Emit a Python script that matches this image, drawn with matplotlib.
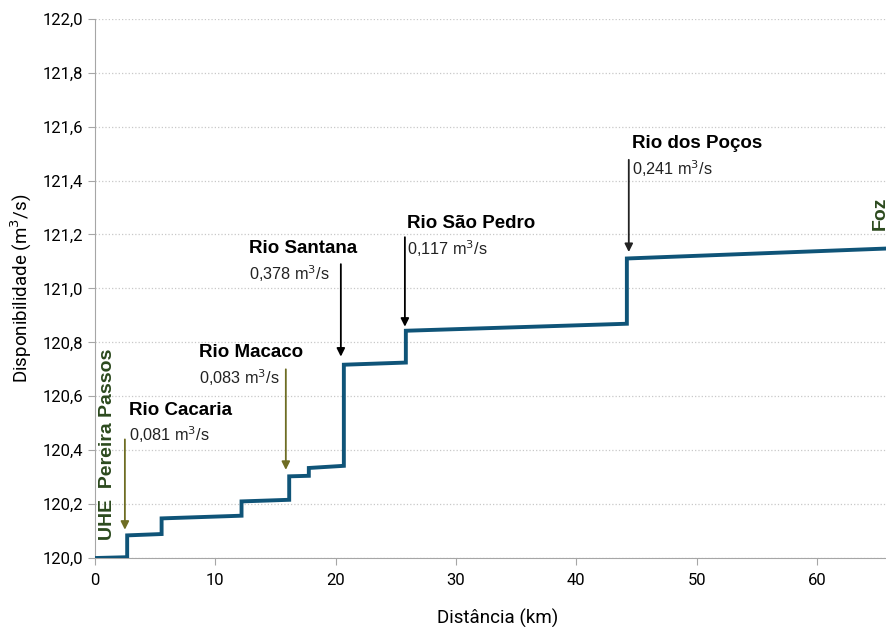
import matplotlib
matplotlib.use('Agg')
import matplotlib.pyplot as plt
from matplotlib.ticker import FuncFormatter, MultipleLocator

# perfil de disponibilidade ao longo do rio (degraus nos afluentes)
dist_km = [0, 2.68, 2.68, 5.54, 5.54, 12.18, 12.18, 16.14, 16.14, 17.77, 17.77,
           20.68, 20.68, 25.83, 25.83, 44.19, 44.19, 65.8]
disp = [120.0, 120.003, 120.084, 120.089, 120.147, 120.157, 120.210, 120.216,
        120.303, 120.305, 120.334, 120.342, 120.717, 120.725, 120.843, 120.869,
        121.111, 121.148]

# afluentes
afl_nome = ['Rio Cacaria', 'Rio Macaco', 'Rio Santana', 'Rio São Pedro', 'Rio dos Poços']
afl_vazao = ['0,081', '0,083', '0,378', '0,117', '0,241']
afl_km = [2.49, 15.86, 20.43, 25.75, 44.35]
afl_ponta = [120.105, 120.327, 120.747, 120.858, 121.135]

# layout das setas / textos
seta_topo = [120.44, 120.70, 121.09, 121.19, 121.477]
texto_x = [2.82, 8.64, 12.79, 25.91, 44.6]
texto_y = [120.549, 120.762, 121.147, 121.24, 121.537]
seta_cor = ['#6e6d24', '#6e6d24', 'black', 'black', '#222222']

plt.rcParams['font.family'] = ['Liberation Sans', 'DejaVu Sans']

fig = plt.figure(figsize=(8.87, 6.27), dpi=100)
ax = fig.add_axes([0.107, 0.110, 0.893, 0.860])

ax.plot(dist_km, disp, color='#0f5478', lw=2.8, solid_joinstyle='miter', zorder=3)

for nome, q, xk, yp, yt, tx, ty, c in zip(afl_nome, afl_vazao, afl_km, afl_ponta,
                                         seta_topo, texto_x, texto_y, seta_cor):
    ax.annotate('', xy=(xk, yp), xytext=(xk, yt),
                arrowprops=dict(arrowstyle='-|>', color=c, lw=1.3,
                                mutation_scale=12, shrinkA=0, shrinkB=0), zorder=4)
    ax.text(tx, ty, nome, fontsize=13.5, fontweight='bold', ha='left', va='center')
    ax.text(tx, ty - 0.093, q + ' m$^3$/s', fontsize=11.7, ha='left', va='center',
            color='#222222')

ax.text(1.08, 120.068, 'UHE  Pereira Passos', rotation=90, ha='center', va='bottom',
        fontsize=14, fontweight='bold', color='#2c4a1e')
ax.text(65.2, 121.217, 'Foz', rotation=90, ha='center', va='bottom',
        fontsize=14, fontweight='bold', color='#2c4a1e', clip_on=True)

ax.set_xlim(0, 65.8)
ax.set_ylim(120.0, 122.0)
ax.xaxis.set_major_locator(MultipleLocator(10))
ax.yaxis.set_major_locator(MultipleLocator(0.2))
ax.yaxis.set_major_formatter(FuncFormatter(lambda v, p: f'{v:.1f}'.replace('.', ',')))

ax.grid(axis='y', color='#c8c8c8', linestyle=':', lw=0.9)
ax.set_axisbelow(True)
for s in ['top', 'right']:
    ax.spines[s].set_visible(False)
for s in ['left', 'bottom']:
    ax.spines[s].set_color('#a6a6a6')
ax.tick_params(axis='both', colors='#a6a6a6', labelcolor='black', labelsize=12, length=5)
ax.tick_params(axis='x', pad=6)
for lbl in ax.get_xticklabels() + ax.get_yticklabels():
    lbl.set_fontfamily('Roboto')

ax.set_xlabel('Distância (km)', fontsize=13.5, fontfamily='Roboto')
ax.xaxis.set_label_coords(0.508, -0.095)
ax.set_ylabel('Disponibilidade (m$^3$/s)', fontsize=13.5, labelpad=6, fontfamily='Roboto')

fig.savefig('out.png', dpi=100)
